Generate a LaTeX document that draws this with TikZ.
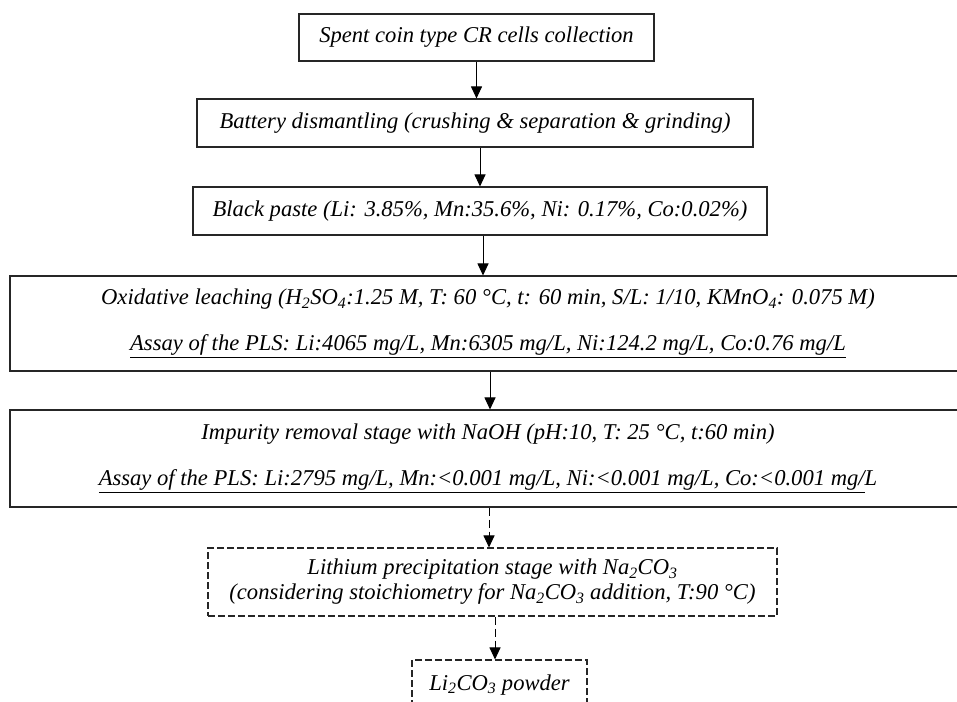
\documentclass[tikz,border=0pt]{standalone}
\usepackage{fontspec}
\setmainfont{Liberation Serif}
\usetikzlibrary{arrows.meta,calc}
\begin{document}
\begin{tikzpicture}[x=1pt,y=-1pt,
  box/.style={draw=black!85, line width=1.1pt, rectangle, inner sep=0pt, align=center,
    font=\itshape\fontsize{22.6}{27}\selectfont},
  twobox/.style={box, font=\itshape\fontsize{22.6}{46}\selectfont},
  dbox/.style={box, dash pattern=on 7pt off 3pt, font=\itshape\fontsize{22.6}{25}\selectfont},
  arr/.style={-{Triangle[length=12pt,width=11pt]}, line width=1pt},
  darr/.style={arr, dash pattern=on 8pt off 4pt}]
\useasboundingbox (0,0) rectangle (957,701);
\clip (0,0) rectangle (957,701);
\node[box, minimum width=355pt, minimum height=47pt] (b1) at (476.5,37.5)
  {Spent coin type CR cells collection};
\node[box, minimum width=556pt, minimum height=48pt] (b2) at (475,123)
  {Battery dismantling (crushing \& separation \& grinding)};
\node[box, minimum width=574pt, minimum height=48pt] (b3) at (480,211)
  {Black paste (Li: 3.85\%, Mn:35.6\%, Ni: 0.17\%, Co:0.02\%)};
\node[twobox, minimum width=956pt, minimum height=95pt] (b4) at (488,323.5)
  {Oxidative leaching (H\textsubscript{2}SO\textsubscript{4}:1.25 M, T: 60 °C, t: 60 min, S/L: 1/10, KMnO\textsubscript{4}: 0.075 M)\\
   \underline{Assay of the PLS: Li:4065 mg/L, Mn:6305 mg/L, Ni:124.2 mg/L, Co:0.76 mg/L}};
\node[twobox, minimum width=956pt, minimum height=97pt] (b5) at (488,458.5)
  {Impurity removal stage with NaOH (pH:10, T: 25 °C, t:60 min)\\
   \underline{Assay of the PLS: Li:2795 mg/L, Mn:<0.001 mg/L, Ni:<0.001 mg/L, Co:<0.001 mg/}L};
\node[dbox, minimum width=569pt, minimum height=68pt] (b6) at (492.5,582)
  {Lithium precipitation stage with Na\textsubscript{2}CO\textsubscript{3}\\
   (considering stoichiometry for Na\textsubscript{2}CO\textsubscript{3} addition, T:90 °C)};
\node[dbox, minimum width=175pt, minimum height=50pt] (b7) at (499.5,685)
  {Li\textsubscript{2}CO\textsubscript{3} powder};
\draw[arr] (b1.south) -- (b1.south |- b2.north);
\draw[arr] (b3.north |- b2.south) -- (b3.north);
\draw[arr] ([xshift=3pt]b3.south) -- ([xshift=3pt]b3.south |- b4.north);
\draw[arr] ([xshift=2pt]b4.south) -- ([xshift=2pt]b4.south |- b5.north);
\draw[darr] ([xshift=1pt]b5.south) -- ([xshift=1pt]b5.south |- b6.north);
\draw[darr] ([xshift=2.5pt]b6.south) -- ([xshift=2.5pt]b6.south |- b7.north);
\end{tikzpicture}
\end{document}
